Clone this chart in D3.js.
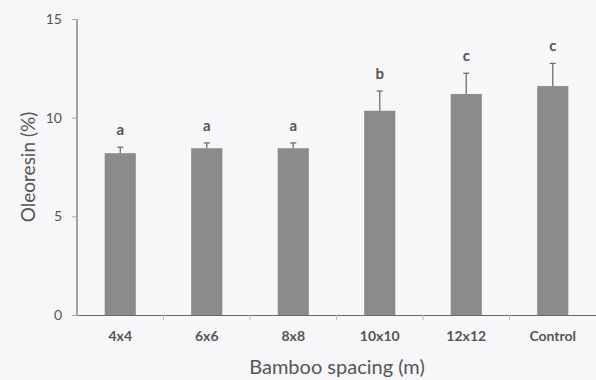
<!DOCTYPE html>
<html>
<head>
<meta charset="utf-8">
<script src="https://cdn.jsdelivr.net/npm/d3@7"></script>
<style>
  html, body { margin: 0; padding: 0; background: #f7f7f9; }
  svg { display: block; }
</style>
</head>
<body>
<svg id="chart" width="596" height="380"></svg>
<script>
// Oleoresin content by bamboo spacing
const categories = ["4x4", "6x6", "8x8", "10x10", "12x12", "Control"];
const means = [8.2, 8.45, 8.45, 10.35, 11.2, 11.6];
const errors = [0.3, 0.27, 0.27, 1.0, 1.05, 1.15];
const groups = ["a", "a", "a", "b", "c", "c"];
const yTicks = [0, 5, 10, 15];

const svg = d3.select("#chart");
const margin = { left: 77, right: 0, top: 19, bottom: 65 };
const W = 596, H = 380;
const font = "Lato, 'Open Sans', sans-serif";

const x = d3.scaleBand().domain(categories).range([margin.left, W - margin.right]).paddingInner(0).paddingOuter(0);
const y = d3.scaleLinear().domain([0, 15]).range([H - margin.bottom, margin.top]);

const barW = x.bandwidth() * 0.36;
const textCol = "#555";
const axisCol = "#6a6a6a";

// bars
svg.append("g").selectAll("rect").data(categories).join("rect")
  .attr("x", (d) => x(d) + x.bandwidth() / 2 - barW / 2)
  .attr("y", (d, i) => y(means[i]))
  .attr("width", barW)
  .attr("height", (d, i) => y(0) - y(means[i]))
  .attr("fill", "#8b8b8e");

// upper error bars
const eb = svg.append("g").attr("stroke", "#6e6e70").attr("stroke-width", 1.3);
categories.forEach((c, i) => {
  const cx = x(c) + x.bandwidth() / 2;
  eb.append("line").attr("x1", cx).attr("x2", cx).attr("y1", y(means[i])).attr("y2", y(means[i] + errors[i]));
  eb.append("line").attr("x1", cx - 3).attr("x2", cx + 3).attr("y1", y(means[i] + errors[i])).attr("y2", y(means[i] + errors[i]));
});

// significance letters
svg.append("g").selectAll("text").data(categories).join("text")
  .attr("x", (d) => x(d) + x.bandwidth() / 2)
  .attr("y", (d, i) => y(means[i] + errors[i]) - 12)
  .attr("text-anchor", "middle")
  .attr("font-family", font)
  .attr("font-size", 15)
  .attr("font-weight", "bold")
  .attr("fill", textCol)
  .text((d, i) => groups[i]);

// y axis
const yAxis = svg.append("g").attr("transform", `translate(${margin.left},0)`)
  .call(d3.axisLeft(y).tickValues(yTicks).tickSize(5).tickPadding(10));
yAxis.select(".domain").attr("stroke", axisCol).attr("stroke-width", 1.2).attr("d", `M0,${y(0)}V${y(15)}`);
yAxis.selectAll(".tick line").attr("stroke", "#aaa");
yAxis.selectAll("text").attr("font-family", font).attr("font-size", 14).attr("fill", textCol);

// x axis
const xAxis = svg.append("g").attr("transform", `translate(0,${y(0)})`)
  .call(d3.axisBottom(x).tickSize(0).tickPadding(16));
xAxis.select(".domain").attr("stroke", axisCol).attr("stroke-width", 1.2);
xAxis.selectAll("text").attr("font-family", font).attr("font-size", 14).attr("font-weight", "bold").attr("fill", textCol);
// boundary ticks between categories
svg.append("g").selectAll("line").data(categories.slice(1)).join("line")
  .attr("x1", (d) => x(d)).attr("x2", (d) => x(d))
  .attr("y1", y(0)).attr("y2", y(0) + 5)
  .attr("stroke", "#bbb");

// axis titles
svg.append("text")
  .attr("x", 337)
  .attr("y", 374)
  .attr("text-anchor", "middle")
  .attr("font-family", font)
  .attr("font-size", 20)
  .attr("fill", textCol)
  .text("Bamboo spacing (m)");

svg.append("text")
  .attr("transform", `translate(35,${(y(0) + y(15)) / 2}) rotate(-90)`)
  .attr("text-anchor", "middle")
  .attr("font-family", font)
  .attr("font-size", 19)
  .attr("fill", textCol)
  .text("Oleoresin (%)");
</script>
</body>
</html>
